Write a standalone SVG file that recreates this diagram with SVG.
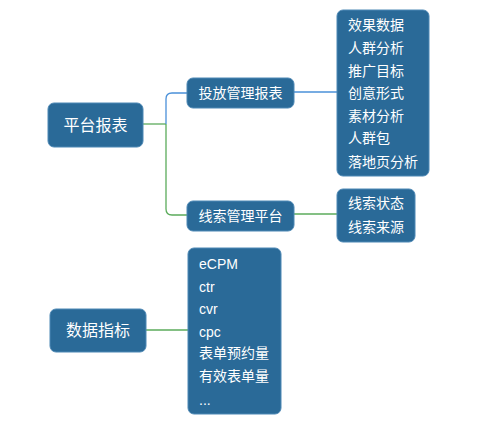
<svg xmlns="http://www.w3.org/2000/svg" width="488" height="430" viewBox="0 0 488 430">
<style>
.box{fill:#2a6a98;stroke:#4d88b5;stroke-width:1}
.t{fill:#ffffff;font-family:"Liberation Sans","Noto Sans CJK SC",sans-serif;font-size:14px}
.tl{fill:#ffffff;font-family:"Liberation Sans","Noto Sans CJK SC",sans-serif;font-size:16px}
.blue{fill:none;stroke:#4a90d9;stroke-width:1.3}
.green{fill:none;stroke:#5bab5b;stroke-width:1.3}
</style>
<rect width="488" height="430" fill="#ffffff"/>
<g id="connectors">
<path class="green" d="M143,124 H166"/>
<path class="blue" d="M166,124 V99 Q166,93 172,93 H187"/>
<path class="green" d="M166,124 V209 Q166,215 172,215 H187"/>
<path class="blue" d="M294,92 H337"/>
<path class="green" d="M294,214 H337"/>
<path class="green" d="M146,330 H188"/>
</g>
<g id="node-pingtai">
<rect class="box" x="48" y="103" width="95" height="44" rx="6"/>
<text class="tl" x="95.5" y="131" text-anchor="middle">平台报表</text>
</g>
<g id="node-toufang">
<rect class="box" x="187" y="78" width="107" height="30" rx="6"/>
<text class="t" x="240.5" y="98" text-anchor="middle">投放管理报表</text>
</g>
<g id="node-xiansuo">
<rect class="box" x="187" y="201" width="107" height="30" rx="6"/>
<text class="t" x="240.5" y="221" text-anchor="middle">线索管理平台</text>
</g>
<g id="node-toufang-items">
<rect class="box" x="337" y="10" width="92" height="166" rx="6"/>
<text class="t" x="348" y="30">效果数据</text>
<text class="t" x="348" y="53">人群分析</text>
<text class="t" x="348" y="76">推广目标</text>
<text class="t" x="348" y="98">创意形式</text>
<text class="t" x="348" y="121">素材分析</text>
<text class="t" x="348" y="143">人群包</text>
<text class="t" x="348" y="167">落地页分析</text>
</g>
<g id="node-xiansuo-items">
<rect class="box" x="337" y="189" width="78" height="53" rx="6"/>
<text class="t" x="348" y="208">线索状态</text>
<text class="t" x="348" y="232">线索来源</text>
</g>
<g id="node-shuju">
<rect class="box" x="50" y="309" width="96" height="43" rx="6"/>
<text class="tl" x="98" y="336" text-anchor="middle">数据指标</text>
</g>
<g id="node-shuju-items">
<rect class="box" x="188" y="248" width="93" height="166" rx="6"/>
<text class="t" x="199" y="269">eCPM</text>
<text class="t" x="199" y="292">ctr</text>
<text class="t" x="199" y="314">cvr</text>
<text class="t" x="199" y="337">cpc</text>
<text class="t" x="199" y="358">表单预约量</text>
<text class="t" x="199" y="381">有效表单量</text>
<text class="t" x="199" y="405">...</text>
</g>
</svg>
